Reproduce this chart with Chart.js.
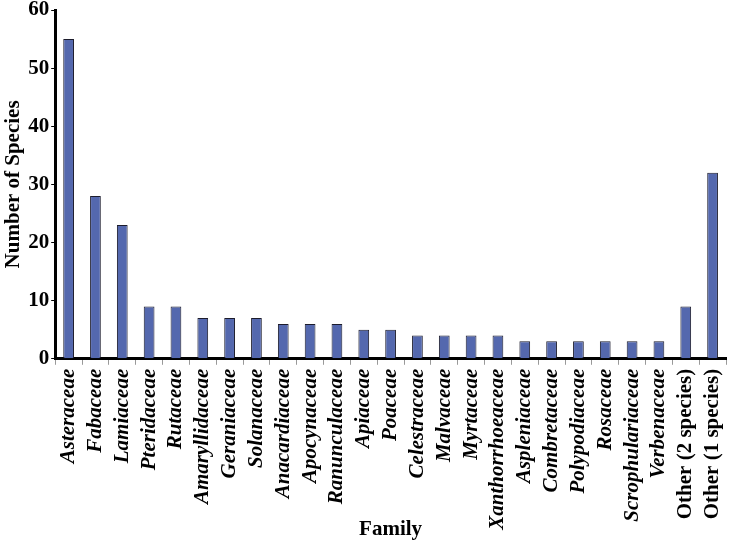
<!DOCTYPE html>
<html>
<head>
<meta charset="utf-8">
<script src="https://cdn.jsdelivr.net/npm/chart.js@4"></script>
<style>
  html, body { margin: 0; padding: 0; background: #fff; }
  #wrap { width: 733px; height: 542px; }
</style>
</head>
<body>
<div id="wrap"><canvas id="grafico"></canvas></div>
<script>
const familias = [
  "Asteraceae", "Fabaceae", "Lamiaceae", "Pteridaceae", "Rutaceae",
  "Amaryllidaceae", "Geraniaceae", "Solanaceae", "Anacardiaceae", "Apocynaceae",
  "Ranunculaceae", "Apiaceae", "Poaceae", "Celestraceae", "Malvaceae",
  "Myrtaceae", "Xanthorrhoeaceae", "Aspleniaceae", "Combretaceae", "Polypodiaceae",
  "Rosaceae", "Scrophulariaceae", "Verbenaceae", "Other (2 species)", "Other (1 species)"
];
const especies = [55, 28, 23, 9, 9, 7, 7, 7, 6, 6, 6, 5, 5, 4, 4, 4, 4, 3, 3, 3, 3, 3, 3, 9, 32];
const yMax = 60;
const yPasso = 10;

const fonte = "'Liberation Serif', 'Times New Roman', serif";

new Chart(document.getElementById('grafico'), {
  type: 'bar',
  data: {
    labels: familias,
    datasets: [{
      label: 'Number of Species',
      data: especies,
      backgroundColor: '#5468ae',
      borderColor: '#1c1c2c',
      borderWidth: 1,
      barPercentage: 0.4,
      categoryPercentage: 1
    }]
  },
  options: {
    responsive: true,
    maintainAspectRatio: false,
    animation: false,
    layout: { padding: { top: 0, right: 7, left: 1, bottom: 0 } },
    plugins: {
      legend: { display: false },
      tooltip: { enabled: false }
    },
    scales: {
      x: {
        afterFit: s => { s.paddingRight = 0; s.paddingLeft = 0; },
        border: { color: '#000', width: 3 },
        grid: { drawOnChartArea: false, color: '#999', tickLength: 6 },
        ticks: {
          color: '#000',
          minRotation: 90,
          maxRotation: 90,
          autoSkip: false,
          padding: 4,
          font: ctx => ({
            family: fonte,
            size: 21,
            weight: 'bold',
            style: ctx.index >= 23 ? 'normal' : 'italic'
          })
        },
        title: {
          display: true,
          text: 'Family',
          color: '#000',
          padding: { top: -17, bottom: 0 },
          font: { family: fonte, size: 21, weight: 'bold' }
        }
      },
      y: {
        afterFit: s => { s.paddingTop = 10; },
        min: 0,
        max: yMax,
        border: { color: '#000', width: 3 },
        grid: { drawOnChartArea: false, color: '#000', tickLength: 4 },
        ticks: {
          stepSize: yPasso,
          color: '#000',
          padding: 2,
          font: { family: fonte, size: 21, weight: 'bold' }
        },
        title: {
          display: true,
          text: 'Number of Species',
          color: '#000',
          padding: { top: 0, bottom: 0 },
          font: { family: fonte, size: 21, weight: 'bold' }
        }
      }
    }
  }
});
</script>
</body>
</html>
